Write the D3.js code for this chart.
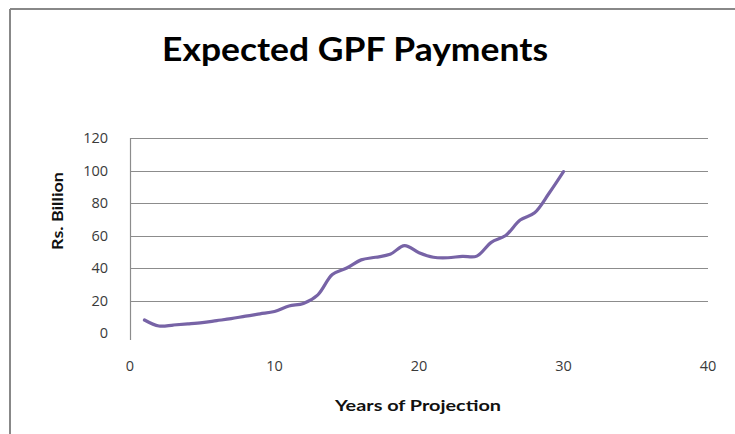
<!DOCTYPE html>
<html>
<head>
<meta charset="utf-8">
<script src="https://cdn.jsdelivr.net/npm/d3@7"></script>
<style>
  html, body { margin: 0; padding: 0; background: #fff; }
  svg { display: block; }
</style>
</head>
<body>
<svg id="chart" width="735" height="434"></svg>
<script>
// Projection years and expected GPF payments (Rs. Billion)
const years = [1, 2, 3, 4, 5, 6, 7, 8, 9, 10, 11, 12, 13, 14, 15,
               16, 17, 18, 19, 20, 21, 22, 23, 24, 25, 26, 27, 28, 29, 30];
const payments = [8, 4.3, 4.9, 5.6, 6.4, 7.6, 8.8, 10.4, 11.8, 13.2, 16.6, 18.2, 23.5, 36, 40,
                  45, 46.6, 48.4, 53.8, 49.4, 46.6, 46.3, 47.2, 47.3, 55.8, 60, 69.5, 74, 86, 99.3];
const xTicks = [0, 10, 20, 30, 40];
const yTicks = [0, 20, 40, 60, 80, 100, 120];

const svg = d3.select("#chart");

// Outer frame (top and left edges)
svg.append("line").attr("x1", 10).attr("x2", 735).attr("y1", 9).attr("y2", 9)
  .attr("stroke", "#888").attr("stroke-width", 2);
svg.append("line").attr("x1", 10).attr("x2", 10).attr("y1", 9).attr("y2", 434)
  .attr("stroke", "#888").attr("stroke-width", 2);

const x = d3.scaleLinear().domain([0, 40]).range([130, 708]);
const y = d3.scaleLinear().domain([0, 120]).range([333, 138]);

// Horizontal gridlines
svg.append("g").selectAll("line")
  .data(yTicks.filter(d => d > 0))
  .join("line")
  .attr("x1", x(0)).attr("x2", x(40))
  .attr("y1", d => Math.round(y(d)) + 0.5).attr("y2", d => Math.round(y(d)) + 0.5)
  .attr("stroke", "#8c8c8c").attr("stroke-width", 1.2);

// Vertical axis line, with the x=0 tick hanging below
svg.append("line")
  .attr("x1", x(0) + 0.5).attr("x2", x(0) + 0.5)
  .attr("y1", y(120)).attr("y2", y(0) + 7)
  .attr("stroke", "#8c8c8c").attr("stroke-width", 1.2);

// Y tick labels
svg.append("g").selectAll("text")
  .data(yTicks)
  .join("text")
  .attr("x", 108).attr("y", d => y(d))
  .attr("dy", "0.36em")
  .attr("text-anchor", "end")
  .attr("font-family", "'Open Sans', sans-serif")
  .attr("font-size", 14.5)
  .attr("fill", "#3a3a3a")
  .text(d => d);

// X tick labels
svg.append("g").selectAll("text")
  .data(xTicks)
  .join("text")
  .attr("x", d => x(d)).attr("y", 366)
  .attr("dy", "0.36em")
  .attr("text-anchor", "middle")
  .attr("font-family", "'Open Sans', sans-serif")
  .attr("font-size", 14.5)
  .attr("fill", "#3a3a3a")
  .text(d => d);

// Payments line
const line = d3.line()
  .x((d, i) => x(years[i]))
  .y(d => y(d))
  .curve(d3.curveCatmullRom.alpha(0.5));

svg.append("path")
  .datum(payments)
  .attr("d", line)
  .attr("fill", "none")
  .attr("stroke", "#7763a6")
  .attr("stroke-width", 3.2)
  .attr("stroke-linejoin", "round")
  .attr("stroke-linecap", "round");

// Title
svg.append("text")
  .attr("x", 355).attr("y", 61)
  .attr("text-anchor", "middle")
  .attr("font-family", "Lato, 'Open Sans', sans-serif")
  .attr("font-weight", "bold")
  .attr("font-size", 32)
  .attr("textLength", 386)
  .attr("lengthAdjust", "spacingAndGlyphs")
  .attr("fill", "#000")
  .text("Expected GPF Payments");

// Axis titles
svg.append("text")
  .attr("transform", "translate(63,211) rotate(-90)")
  .attr("text-anchor", "middle")
  .attr("font-family", "Lato, 'Open Sans', sans-serif")
  .attr("font-weight", "bold")
  .attr("font-size", 15)
  .attr("textLength", 78)
  .attr("lengthAdjust", "spacingAndGlyphs")
  .attr("fill", "#111")
  .text("Rs. Billion");

svg.append("text")
  .attr("x", 418).attr("y", 411)
  .attr("text-anchor", "middle")
  .attr("font-family", "Lato, 'Open Sans', sans-serif")
  .attr("font-weight", "bold")
  .attr("font-size", 15)
  .attr("textLength", 166)
  .attr("lengthAdjust", "spacingAndGlyphs")
  .attr("fill", "#111")
  .text("Years of Projection");
</script>
</body>
</html>
